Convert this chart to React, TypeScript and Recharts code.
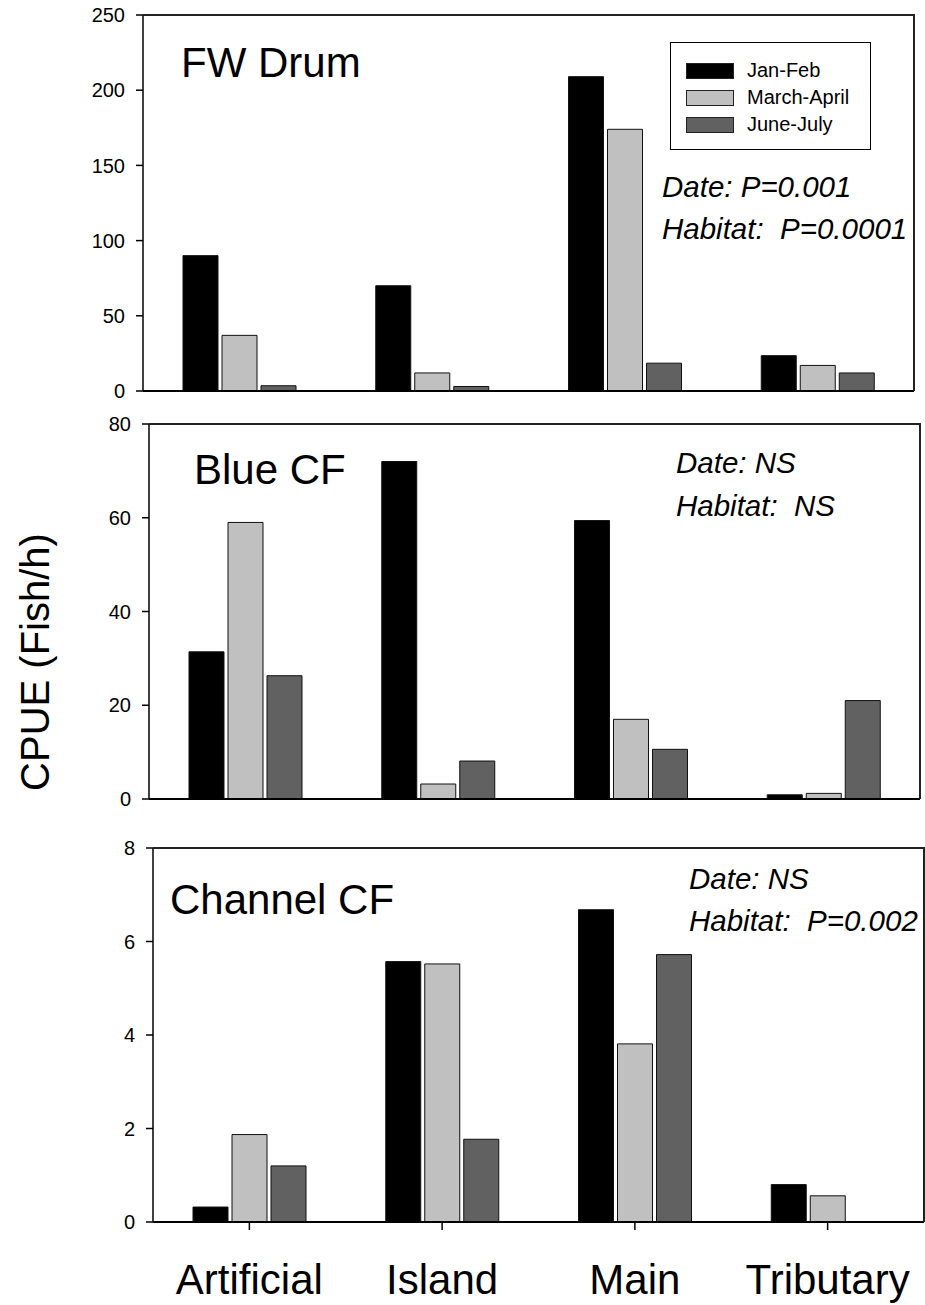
import React from 'react';
import { BarChart, Bar, XAxis, YAxis, Legend } from 'recharts';

const habitats = ['Artificial', 'Island', 'Main', 'Tributary'];
const seasons = ['Jan-Feb', 'March-April', 'June-July'];
const seasonColors = ['#000000', '#c0c0c0', '#616161'];

// FW Drum
const drumJanFeb = [90, 70, 209, 23.5];
const drumMarApr = [37, 12, 174, 17];
const drumJunJul = [3.5, 3, 18.5, 12];
const drumTicks = [0, 50, 100, 150, 200, 250];

// Blue CF
const blueJanFeb = [31.4, 72, 59.4, 0.9];
const blueMarApr = [59, 3.2, 17, 1.2];
const blueJunJul = [26.3, 8.1, 10.6, 21];
const blueTicks = [0, 20, 40, 60, 80];

// Channel CF
const channelJanFeb = [0.32, 5.57, 6.68, 0.8];
const channelMarApr = [1.87, 5.52, 3.81, 0.56];
const channelJunJul = [1.2, 1.77, 5.72, null];
const channelTicks = [0, 2, 4, 6, 8];

const FONT = '"Liberation Sans", Arial, sans-serif';
const Y_AXIS_W = 60;

const buildRows = (a: (number | null)[], b: (number | null)[], c: (number | null)[]) =>
  habitats.map((h, i) => ({ habitat: h, s0: a[i], s1: b[i], s2: c[i] }));

// keep the legend in series order (recharts sorts by name otherwise)
const LegendBox = ({ payload }: any) => {
  const items = seasons.map((s, i) => {
    const p = (payload || []).find((e: any) => e.value === s);
    return { name: s, color: p && p.color ? p.color : seasonColors[i] };
  });
  return (
    <div
      style={{
        width: 201,
        height: 108,
        boxSizing: 'border-box',
        border: '1px solid #000',
        background: '#fff',
        paddingTop: 14,
        paddingLeft: 15,
        fontFamily: FONT,
        fontSize: 20,
        color: '#000',
      }}
    >
      {items.map((it) => (
        <div key={it.name} style={{ display: 'flex', alignItems: 'center', height: 27 }}>
          <span
            style={{
              display: 'inline-block',
              width: 48,
              height: 16,
              boxSizing: 'border-box',
              background: it.color,
              border: '1px solid #222',
              marginRight: 13,
            }}
          />
          <span>{it.name}</span>
        </div>
      ))}
    </div>
  );
};

interface PanelProps {
  data: any[];
  ticks: number[];
  top: number;
  height: number;
  x0: number;
  x1: number;
  y0: number;
  y1: number;
  xAxisH: number;
  showLabels?: boolean;
  showLegend?: boolean;
}

const Panel: React.FC<PanelProps> = ({ data, ticks, top, height, x0, x1, y0, y1, xAxisH, showLabels, showLegend }) => {
  const margin = {
    top: y0 - top,
    left: x0 - Y_AXIS_W,
    right: 925 - x1,
    bottom: top + height - y1 - xAxisH,
  };
  return (
    <>
      <div style={{ position: 'absolute', left: 0, top }}>
        <BarChart width={925} height={height} data={data} margin={margin} barGap={4} barSize={35}>
          <XAxis
            dataKey="habitat"
            height={xAxisH}
            axisLine={{ stroke: '#000', strokeWidth: 2 }}
            tickLine={{ stroke: '#000', strokeWidth: 1.5 }}
            tickSize={8}
            tickMargin={34}
            tick={showLabels ? { fill: '#000', fontSize: 42, fontFamily: FONT } : false}
            tickFormatter={showLabels ? undefined : () => ''}
            interval={0}
          />
          <YAxis
            width={Y_AXIS_W}
            domain={[ticks[0], ticks[ticks.length - 1]]}
            ticks={ticks}
            interval={0}
            axisLine={{ stroke: '#000', strokeWidth: 1.5 }}
            tickLine={{ stroke: '#000', strokeWidth: 1.5 }}
            tickSize={7}
            tickMargin={11}
            tick={{ fill: '#000', fontSize: 20, fontFamily: FONT }}
          />
          {showLegend && (
            <Legend
              layout="horizontal"
              verticalAlign="middle"
              align="center"
              content={<LegendBox />}
              wrapperStyle={{ left: 670, top: 42, width: 201, height: 108 }}
            />
          )}
          {seasons.map((s, i) => (
            <Bar
              key={s}
              dataKey={`s${i}`}
              name={s}
              fill={seasonColors[i]}
              stroke="#111"
              strokeWidth={1}
              isAnimationActive={false}
            />
          ))}
        </BarChart>
      </div>
      <div
        style={{
          position: 'absolute',
          left: x0,
          top: y0 - 1,
          width: x1 + 1 - x0,
          height: y1 - y0 + 1,
          boxSizing: 'border-box',
          borderTop: '2px solid #222',
          borderRight: '2px solid #222',
          pointerEvents: 'none',
        }}
      />
    </>
  );
};

export default function App() {
  return (
    <div style={{ position: 'absolute', left: 0, top: 0, width: 925, height: 1305, background: '#fff' }}>
      <Panel
        data={buildRows(drumJanFeb, drumMarApr, drumJunJul)}
        ticks={drumTicks}
        top={0}
        height={405}
        x0={143}
        x1={914}
        y0={15}
        y1={391}
        xAxisH={12}
        showLegend
      />
      <Panel
        data={buildRows(blueJanFeb, blueMarApr, blueJunJul)}
        ticks={blueTicks}
        top={405}
        height={410}
        x0={149}
        x1={920}
        y0={424}
        y1={799}
        xAxisH={12}
      />
      <Panel
        data={buildRows(channelJanFeb, channelMarApr, channelJunJul)}
        ticks={channelTicks}
        top={815}
        height={490}
        x0={153}
        x1={924}
        y0={848}
        y1={1222}
        xAxisH={80}
        showLabels
      />
      <svg
        width={925}
        height={1305}
        style={{ position: 'absolute', left: 0, top: 0, pointerEvents: 'none' }}
        fontFamily={FONT}
        fill="#000"
      >
        <text x={181} y={77} fontSize={42}>FW Drum</text>
        <text x={194} y={484} fontSize={42}>Blue CF</text>
        <text x={170} y={914} fontSize={42}>Channel CF</text>

        <text x={662} y={197} fontSize={29.5} fontStyle="italic">Date: P=0.001</text>
        <text x={662} y={239} fontSize={29.5} fontStyle="italic" style={{ whiteSpace: 'pre' }}>Habitat:  P=0.0001</text>

        <text x={676} y={473} fontSize={29.5} fontStyle="italic">Date: NS</text>
        <text x={676} y={516} fontSize={29.5} fontStyle="italic" style={{ whiteSpace: 'pre' }}>Habitat:  NS</text>

        <text x={689} y={889} fontSize={29.5} fontStyle="italic">Date: NS</text>
        <text x={689} y={931} fontSize={29.5} fontStyle="italic" style={{ whiteSpace: 'pre' }}>Habitat:  P=0.002</text>

        <text
          x={35}
          y={662}
          fontSize={40}
          textAnchor="middle"
          dominantBaseline="central"
          transform="rotate(-90 35 662)"
        >
          CPUE (Fish/h)
        </text>
      </svg>
    </div>
  );
}
